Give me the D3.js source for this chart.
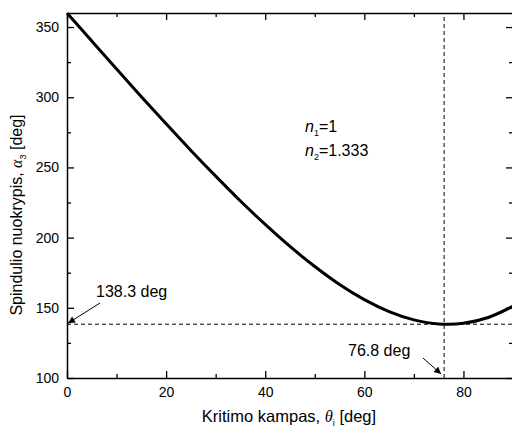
<!DOCTYPE html>
<html>
<head>
<meta charset="utf-8">
<script src="https://cdn.jsdelivr.net/npm/d3@7"></script>
<style>
  body { margin: 0; background: #fff; }
  text { font-family: "Liberation Sans", Arial, sans-serif; fill: #000; }
</style>
</head>
<body>
<div id="chart"></div>
<script>
// curve
const thetaValues = [0, 5, 10, 15, 20, 25, 30, 35, 40, 45, 50, 55, 60, 65, 70, 75, 77, 80, 85, 90];
const alphaValues = [360, 340.0, 320.1, 300.4, 281.1, 262.1, 243.8, 226.1, 209.4, 193.7, 179.4, 166.6, 155.8, 147.3, 141.4, 138.5, 138.3, 139.0, 143.1, 151.1];

const xTicks = [0, 20, 40, 60, 80];
const yTicks = [100, 150, 200, 250, 300, 350];
const minAlpha = 138.3;
const minTheta = 76.1;

const width = 512;
const height = 427;
const margin = { top: 13, right: -1, bottom: 49, left: 67 };

const svg = d3.select("#chart")
  .append("svg")
  .attr("width", width)
  .attr("height", height);

const x = d3.scaleLinear().domain([0, 90]).range([margin.left, width - margin.right]);
const y = d3.scaleLinear().domain([100, 360]).range([height - margin.bottom, margin.top]);

const defs = svg.append("defs");
defs.append("marker")
  .attr("id", "arrow")
  .attr("viewBox", "0 0 10 10")
  .attr("refX", 10)
  .attr("refY", 5)
  .attr("markerWidth", 9)
  .attr("markerHeight", 7)
  .attr("markerUnits", "userSpaceOnUse")
  .attr("orient", "auto")
  .append("path")
  .attr("d", "M0,0 L10,5 L0,10 Z")
  .attr("fill", "#000");

// dashed guide lines
svg.append("line")
  .attr("x1", x(0)).attr("x2", x(90))
  .attr("y1", y(minAlpha)).attr("y2", y(minAlpha))
  .attr("stroke", "#000").attr("stroke-width", 1)
  .attr("stroke-dasharray", "4,3");
svg.append("line")
  .attr("x1", x(minTheta)).attr("x2", x(minTheta))
  .attr("y1", y(100)).attr("y2", y(360))
  .attr("stroke", "#000").attr("stroke-width", 1)
  .attr("stroke-dasharray", "4,3");

// curve
const data = thetaValues.map((t, i) => ({ t: t, a: alphaValues[i] }));
svg.append("path")
  .datum(data)
  .attr("fill", "none")
  .attr("stroke", "#000")
  .attr("stroke-width", 3)
  .attr("d", d3.line().x(d => x(d.t)).y(d => y(d.a)).curve(d3.curveMonotoneX));

// axes: ticks inside on all four sides
const minorX = d3.range(10, 90, 20);
const minorY = d3.range(125, 360, 50);

function styleAxis(g) {
  g.select(".domain").attr("stroke-width", 1.5);
  g.selectAll(".tick line").attr("stroke-width", 1.3);
  g.selectAll("text").style("font-size", "14px");
}

svg.append("g")
  .attr("transform", `translate(0,${y(100)})`)
  .call(d3.axisBottom(x).tickValues(xTicks).tickSizeInner(-7).tickSizeOuter(0).tickPadding(9))
  .call(styleAxis);
svg.append("g")
  .attr("transform", `translate(0,${y(100)})`)
  .call(d3.axisBottom(x).tickValues(minorX).tickSizeInner(-4).tickSizeOuter(0).tickFormat(""))
  .call(g => g.select(".domain").remove())
  .call(g => g.selectAll(".tick line").attr("stroke-width", 1.3));

svg.append("g")
  .attr("transform", `translate(0,${y(360)})`)
  .call(d3.axisTop(x).tickValues(xTicks.concat(minorX)).tickSize(0).tickFormat(""))
  .call(g => g.select(".domain").attr("stroke-width", 1.5))
  .call(g => g.selectAll(".tick line")
    .attr("y2", d => xTicks.includes(d) ? 7 : 4).attr("stroke-width", 1.3));

svg.append("g")
  .attr("transform", `translate(${x(0)},0)`)
  .call(d3.axisLeft(y).tickValues(yTicks).tickSizeInner(-7).tickSizeOuter(0).tickPadding(8))
  .call(styleAxis);
svg.append("g")
  .attr("transform", `translate(${x(0)},0)`)
  .call(d3.axisLeft(y).tickValues(minorY).tickSizeInner(-4).tickSizeOuter(0).tickFormat(""))
  .call(g => g.select(".domain").remove())
  .call(g => g.selectAll(".tick line").attr("stroke-width", 1.3));

svg.append("g")
  .attr("transform", `translate(${x(90)},0)`)
  .call(d3.axisRight(y).tickValues(yTicks.concat(minorY)).tickSize(0).tickFormat(""))
  .call(g => g.select(".domain").attr("stroke-width", 1.5))
  .call(g => g.selectAll(".tick line")
    .attr("x2", d => yTicks.includes(d) ? -7 : -4).attr("stroke-width", 1.3));

// axis titles
const xTitle = svg.append("text")
  .attr("x", 289)
  .attr("y", 422)
  .attr("text-anchor", "middle")
  .style("font-size", "16.5px");
xTitle.append("tspan").text("Kritimo kampas, ");
xTitle.append("tspan").text("θ")
  .style("font-family", "'Liberation Serif', serif").style("font-style", "italic");
xTitle.append("tspan").text("i").attr("dy", 4).style("font-size", "9px");
xTitle.append("tspan").text(" [deg]").attr("dy", -4);

const yTitle = svg.append("text")
  .attr("transform", "translate(22,215) rotate(-90)")
  .attr("text-anchor", "middle")
  .style("font-size", "16px");
yTitle.append("tspan").text("Spindulio nuokrypis, ");
yTitle.append("tspan").text("α")
  .style("font-family", "'Liberation Serif', serif").style("font-style", "italic");
yTitle.append("tspan").text("3").attr("dy", 4).style("font-size", "9px");
yTitle.append("tspan").text(" [deg]").attr("dy", -4);

// refractive indices
[["1", "=1", 132], ["2", "=1.333", 156]].forEach(([sub, val, yy]) => {
  const t = svg.append("text").attr("x", 305).attr("y", yy).style("font-size", "16px");
  t.append("tspan").text("n").style("font-style", "italic");
  t.append("tspan").text(sub).attr("dy", 4).style("font-size", "9px");
  t.append("tspan").text(val).attr("dy", -4);
});

// annotations
svg.append("text")
  .attr("x", 96).attr("y", 297)
  .style("font-size", "16px")
  .text("138.3 deg");
svg.append("line")
  .attr("x1", 100).attr("y1", 303)
  .attr("x2", x(0) + 1).attr("y2", y(minAlpha) - 1)
  .attr("stroke", "#000").attr("stroke-width", 1)
  .attr("marker-end", "url(#arrow)");

svg.append("text")
  .attr("x", 348).attr("y", 356)
  .style("font-size", "16px")
  .text("76.8 deg");
svg.append("line")
  .attr("x1", 423).attr("y1", 358)
  .attr("x2", x(minTheta) - 3).attr("y2", y(100) - 4)
  .attr("stroke", "#000").attr("stroke-width", 1)
  .attr("marker-end", "url(#arrow)");
</script>
</body>
</html>
